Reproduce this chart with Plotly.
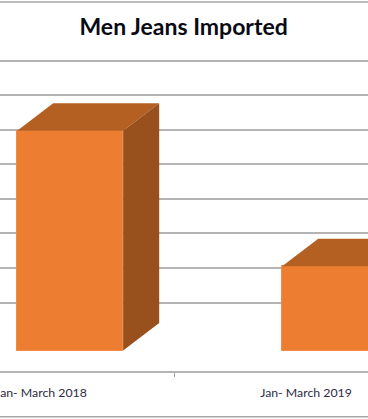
import plotly.graph_objects as go

categories = ["Jan- March 2018", "Jan- March 2019"]
values = [6.36, 2.44]
gridlines = [1.39, 2.39, 3.39, 4.39, 5.39, 6.39, 7.39, 8.39]
title = "Men Jeans Imported"

FRONT, TOP, SIDE = "#ed7d31", "#b46022", "#98501c"
GRID, TEXT = "#b4b4b4", "#2b2b3f"
offset, width, depth_x, depth_y = -0.09, 0.40, 0.136, 0.80
xpos = list(range(len(categories)))

fig = go.Figure()
fig.add_trace(go.Bar(x=xpos, y=values, width=width, offset=offset,
                     marker=dict(color=FRONT, line=dict(color="#f08a45", width=1))))
for x, v in zip(xpos, values):
    l, r = x + offset, x + offset + width
    fig.add_trace(go.Scatter(
        x=[l, r, r + depth_x, l + depth_x, l],
        y=[v, v, v + depth_y, v + depth_y, v],
        mode="lines", fill="toself", fillcolor=TOP, line=dict(width=0)))
    fig.add_trace(go.Scatter(
        x=[r, r + depth_x, r + depth_x, r, r],
        y=[0, depth_y, v + depth_y, v, 0],
        mode="lines", fill="toself", fillcolor=SIDE, line=dict(width=0)))

fig.update_layout(
    width=368, height=419, autosize=False,
    margin=dict(l=0, r=0, t=40, b=47.5, autoexpand=False),
    paper_bgcolor="white", plot_bgcolor="white",
    showlegend=False, bargap=0,
    title=dict(text=f"<b>{title}</b>", x=0.499, xanchor="center", y=0.936, yanchor="middle",
               font=dict(family="Lato", size=23, color="#0a0a14")),
    xaxis=dict(range=[-0.1547, 1.234], tickmode="array", tickvals=xpos, ticktext=categories,
               ticks="", showgrid=False, zeroline=False, showline=True, automargin=False,
               linecolor=GRID, linewidth=1.5, ticklabeloverflow="allow", ticklabelstandoff=9,
               tickfont=dict(family="Lato", size=12.3, color=TEXT),
               minor=dict(tickmode="array", tickvals=[0.505], ticks="outside", ticklen=4,
                          tickcolor="#9a9a9a", tickwidth=1, showgrid=False)),
    yaxis=dict(range=[-0.59, 8.99], tickmode="array", tickvals=gridlines, showticklabels=False,
               ticks="", showgrid=True, gridcolor=GRID, gridwidth=1.5, zeroline=False,
               automargin=False),
    shapes=[
        dict(type="line", xref="paper", yref="paper", x0=0, x1=1, y0=y, y1=y,
             line=dict(color="#a6a6a6", width=1.5), layer="below")
        for y in (1.115, -0.1385)
    ],
)
fig.write_html("out.html", config={"displayModeBar": False},
               post_script="document.body.style.margin='0';document.body.style.overflow='hidden';")
